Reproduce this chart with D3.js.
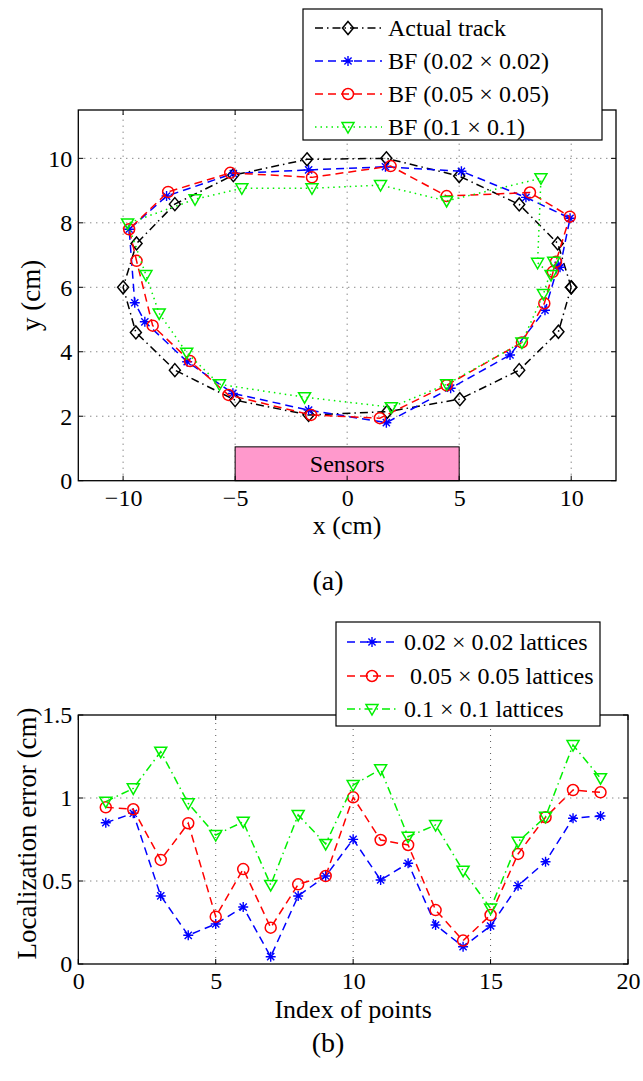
<!DOCTYPE html>
<html>
<head>
<meta charset="utf-8">
<script src="https://cdn.jsdelivr.net/npm/d3@7"></script>
<style>
  html, body { margin: 0; padding: 0; background: #fff; }
  svg { display: block; }
</style>
</head>
<body>
<script>
// ---------- (a) tracking in the plane ----------
const trackX = [10, 9.4, 7.68, 5.0, 1.75, -1.79, -5.08, -7.69, -9.4, -10, -9.43, -7.69, -5.0, -1.72, 1.79, 5.03, 7.68, 9.43, 10];
const trackY = [6.0, 7.36, 8.57, 9.45, 10.0, 9.97, 9.48, 8.58, 7.36, 6.0, 4.6, 3.43, 2.5, 2.04, 2.14, 2.53, 3.43, 4.62, 6.0];

const bf02X = [9.5, 9.95, 7.98, 5.1, 1.71, -1.72, -5.08, -8.06, -9.73, -9.48, -9.03, -7.14, -5.1, -1.72, 1.75, 4.62, 7.27, 8.83, 9.42];
const bf02Y = [6.62, 8.14, 8.79, 9.6, 9.74, 9.64, 9.53, 8.83, 7.8, 5.52, 4.93, 3.69, 2.71, 2.19, 1.8, 2.87, 3.9, 5.29, 6.68];

const bf05X = [9.18, 9.94, 8.16, 4.44, 1.94, -1.57, -5.22, -7.99, -9.73, -9.4, -8.68, -7.01, -5.3, -1.61, 1.46, 4.44, 7.8, 8.8, 9.32];
const bf05Y = [6.48, 8.19, 8.94, 8.83, 9.76, 9.41, 9.55, 8.96, 7.8, 6.82, 4.81, 3.71, 2.66, 2.04, 1.94, 2.96, 4.29, 5.5, 6.79];

const bf10X = [9.1, 8.5, 8.65, 4.44, 1.49, -1.57, -4.7, -6.79, -9.8, -8.98, -8.39, -7.16, -5.7, -1.9, 1.97, 4.44, 7.8, 8.76, 9.22];
const bf10Y = [6.38, 6.76, 9.38, 8.68, 9.17, 9.07, 9.07, 8.73, 7.98, 6.38, 5.19, 3.97, 2.99, 2.59, 2.28, 2.99, 4.29, 5.79, 6.79];

const sensorSpanX = [-5, 5];
const sensorSpanY = [0, 1.05];

const xTicksA = [-10, -5, 0, 5, 10];
const yTicksA = [0, 2, 4, 6, 8, 10];
const legendA = ["Actual track", "BF (0.02 × 0.02)", "BF (0.05 × 0.05)", "BF (0.1 × 0.1)"];

// ---------- (b) localization error per point ----------
const pointIndex = [1, 2, 3, 4, 5, 6, 7, 8, 9, 10, 11, 12, 13, 14, 15, 16, 17, 18, 19];
const err02 = [0.851, 0.908, 0.41, 0.173, 0.241, 0.343, 0.044, 0.41, 0.53, 0.751, 0.506, 0.607, 0.235, 0.104, 0.229, 0.472, 0.616, 0.878, 0.892];
const err05 = [0.944, 0.932, 0.627, 0.848, 0.285, 0.572, 0.219, 0.48, 0.53, 1.004, 0.747, 0.717, 0.325, 0.141, 0.295, 0.663, 0.884, 1.048, 1.034];
const err10 = [0.978, 1.058, 1.279, 0.968, 0.777, 0.857, 0.476, 0.898, 0.723, 1.078, 1.173, 0.767, 0.837, 0.562, 0.335, 0.737, 0.887, 1.319, 1.119];

const xTicksB = [0, 5, 10, 15, 20];
const yTicksB = [0, 0.5, 1, 1.5];
const legendB = ["0.02 × 0.02 lattices", "0.05 × 0.05 lattices", "0.1 × 0.1 lattices"];

// ---------- drawing helpers ----------
const W = 643, H = 1081;
const FONT = "'Liberation Serif', 'DejaVu Serif', 'Times New Roman', Times, serif";
const svg = d3.select("body").append("svg").attr("width", W).attr("height", H)
  .attr("font-family", FONT);
svg.append("rect").attr("width", W).attr("height", H).attr("fill", "#fff");

const DASH = "8,5", DASHDOT = "8,4,1.5,4", DOT = "1.5,4";
const GREEN = "#00f000";
const fmtMinus = d => (d < 0 ? "\u2212" + Math.abs(d) : String(d));

function label(g, x, y, size, str) {
  return g.append("text").attr("x", x).attr("y", y).attr("font-size", size)
    .attr("font-family", FONT).attr("fill", "#000").text(str);
}

const markerPath = {
  diamond: "M0,-6.5L5.5,0L0,6.5L-5.5,0Z",
  star: "M-5,0H5M0,-5V5M-3.6,-3.6L3.6,3.6M-3.6,3.6L3.6,-3.6",
  circle: d3.symbol(d3.symbolCircle, Math.PI * 5.5 * 5.5)(),
  tri: "M-6,-4.5L6,-4.5L0,6Z"
};

function drawMarkers(g, pts, kind, color) {
  g.selectAll(null).data(pts).join("path")
    .attr("transform", d => `translate(${d[0]},${d[1]})`)
    .attr("d", markerPath[kind])
    .attr("fill", "none")
    .attr("stroke", color)
    .attr("stroke-width", kind === "star" ? 1.4 : 1.5);
}

function drawSeries(g, xs, ys, sx, sy, color, dash, kind) {
  const pts = xs.map((v, i) => [sx(v), sy(ys[i])]);
  g.append("path")
    .attr("d", d3.line()(pts))
    .attr("fill", "none")
    .attr("stroke", color)
    .attr("stroke-width", 1.5)
    .attr("stroke-dasharray", dash);
  drawMarkers(g, pts, kind, color);
}

function drawFrame(g, sx, sy, xt, yt, fmt) {
  const [x0, x1] = sx.range(), [y0, y1] = sy.range();
  // dotted grid
  const grid = g.append("g").attr("stroke", "#444").attr("stroke-width", 0.9).attr("stroke-dasharray", "1,5");
  xt.filter(v => sx(v) > x0 + 1 && sx(v) < x1 - 1).forEach(v =>
    grid.append("line").attr("x1", sx(v)).attr("x2", sx(v)).attr("y1", y0).attr("y2", y1));
  yt.filter(v => sy(v) < y0 - 1 && sy(v) > y1 + 1).forEach(v =>
    grid.append("line").attr("x1", x0).attr("x2", x1).attr("y1", sy(v)).attr("y2", sy(v)));

  // tick labels through d3 axes
  const ax = g.append("g").attr("transform", `translate(0,${y0})`)
    .call(d3.axisBottom(sx).tickValues(xt).tickFormat(fmt).tickSize(0));
  ax.attr("font-family", FONT).attr("font-size", 24);
  ax.select(".domain").remove();
  ax.selectAll("text").attr("y", 25).attr("dy", null).attr("fill", "#000");
  const ay = g.append("g").attr("transform", `translate(${x0},0)`)
    .call(d3.axisLeft(sy).tickValues(yt).tickFormat(fmt).tickSize(0));
  ay.attr("font-family", FONT).attr("font-size", 24);
  ay.select(".domain").remove();
  ay.selectAll("text").attr("x", -6).attr("dy", "0.33em").attr("fill", "#000");
}

function drawBox(g, sx, sy, xt, yt) {
  const [x0, x1] = sx.range(), [y0, y1] = sy.range();
  const tl = 5;
  const t = g.append("g").attr("stroke", "#000").attr("stroke-width", 1);
  xt.forEach(v => {
    t.append("line").attr("x1", sx(v)).attr("x2", sx(v)).attr("y1", y0).attr("y2", y0 - tl);
    t.append("line").attr("x1", sx(v)).attr("x2", sx(v)).attr("y1", y1).attr("y2", y1 + tl);
  });
  yt.forEach(v => {
    t.append("line").attr("x1", x0).attr("x2", x0 + tl).attr("y1", sy(v)).attr("y2", sy(v));
    t.append("line").attr("x1", x1).attr("x2", x1 - tl).attr("y1", sy(v)).attr("y2", sy(v));
  });
  g.append("rect").attr("x", x0).attr("y", y1).attr("width", x1 - x0).attr("height", y0 - y1)
    .attr("fill", "none").attr("stroke", "#000").attr("stroke-width", 1.3);
}

function drawLegend(g, box, rows, items, lineX, markX, textX) {
  g.append("rect").attr("x", box[0]).attr("y", box[1]).attr("width", box[2]).attr("height", box[3])
    .attr("fill", "#fff").attr("stroke", "#000").attr("stroke-width", 1.2);
  items.forEach((it, i) => {
    const y = rows[i];
    g.append("line").attr("x1", lineX[0]).attr("x2", lineX[1]).attr("y1", y).attr("y2", y)
      .attr("stroke", it.color).attr("stroke-width", 1.5).attr("stroke-dasharray", it.dash);
    drawMarkers(g, [[markX, y]], it.kind, it.color);
    label(g, textX + (it.shift || 0), y, 24, it.label).attr("dy", "0.33em");
  });
}

// ---------- panel (a) ----------
const xA = d3.scaleLinear().domain([-12, 12]).range([78.3, 616]);
const yA = d3.scaleLinear().domain([0, 11.5]).range([480.7, 110]);
const gA = svg.append("g");
drawFrame(gA, xA, yA, xTicksA, yTicksA, fmtMinus);

gA.append("rect")
  .attr("x", xA(sensorSpanX[0])).attr("y", yA(sensorSpanY[1]))
  .attr("width", xA(sensorSpanX[1]) - xA(sensorSpanX[0]))
  .attr("height", yA(sensorSpanY[0]) - yA(sensorSpanY[1]))
  .attr("fill", "#ff99cc").attr("stroke", "#000").attr("stroke-width", 1);
label(gA, xA(0), yA(sensorSpanY[1] / 2), 24, "Sensors").attr("dy", "0.33em").attr("text-anchor", "middle");

drawSeries(gA, trackX, trackY, xA, yA, "#000", DASHDOT, "diamond");
drawSeries(gA, bf02X, bf02Y, xA, yA, "#0000ff", DASH, "star");
drawSeries(gA, bf05X, bf05Y, xA, yA, "#ff0000", DASH, "circle");
drawSeries(gA, bf10X, bf10Y, xA, yA, GREEN, DOT, "tri");
drawBox(gA, xA, yA, xTicksA, yTicksA);

label(gA, xA(0), 534, 26, "x (cm)").attr("text-anchor", "middle");
label(gA, 0, 0, 27, "y (cm)").attr("text-anchor", "middle")
  .attr("transform", `translate(40,${(yA.range()[0] + yA.range()[1]) / 2}) rotate(-90)`);
label(gA, 328, 590, 28, "(a)").attr("text-anchor", "middle");

drawLegend(gA, [303, 9, 299, 131], [28, 61, 94, 127], [
  { label: legendA[0], color: "#000", dash: DASHDOT, kind: "diamond" },
  { label: legendA[1], color: "#0000ff", dash: DASH, kind: "star" },
  { label: legendA[2], color: "#ff0000", dash: DASH, kind: "circle" },
  { label: legendA[3], color: GREEN, dash: DOT, kind: "tri" }
], [315, 382], 348, 388);

// ---------- panel (b) ----------
const xB = d3.scaleLinear().domain([0, 20]).range([78.3, 628]);
const yB = d3.scaleLinear().domain([0, 1.5]).range([964, 715]);
const gB = svg.append("g");
drawFrame(gB, xB, yB, xTicksB, yTicksB, d => String(d));

drawSeries(gB, pointIndex, err02, xB, yB, "#0000ff", DASH, "star");
drawSeries(gB, pointIndex, err05, xB, yB, "#ff0000", DASH, "circle");
drawSeries(gB, pointIndex, err10, xB, yB, GREEN, DASHDOT, "tri");
drawBox(gB, xB, yB, xTicksB, yTicksB);

label(gB, xB(10), 1018, 26, "Index of points").attr("text-anchor", "middle");
label(gB, 0, 0, 27, "Localization error (cm)").attr("text-anchor", "middle")
  .attr("transform", `translate(36,${(yB.range()[0] + yB.range()[1]) / 2 - 6}) rotate(-90)`);
label(gB, 328, 1052, 28, "(b)").attr("text-anchor", "middle");

drawLegend(gB, [336, 622, 264, 104], [642, 676, 709], [
  { label: legendB[0], color: "#0000ff", dash: DASH, kind: "star" },
  { label: legendB[1], color: "#ff0000", dash: DASH, kind: "circle", shift: 6 },
  { label: legendB[2], color: GREEN, dash: DASHDOT, kind: "tri" }
], [347, 399], 372, 404);
</script>
</body>
</html>
